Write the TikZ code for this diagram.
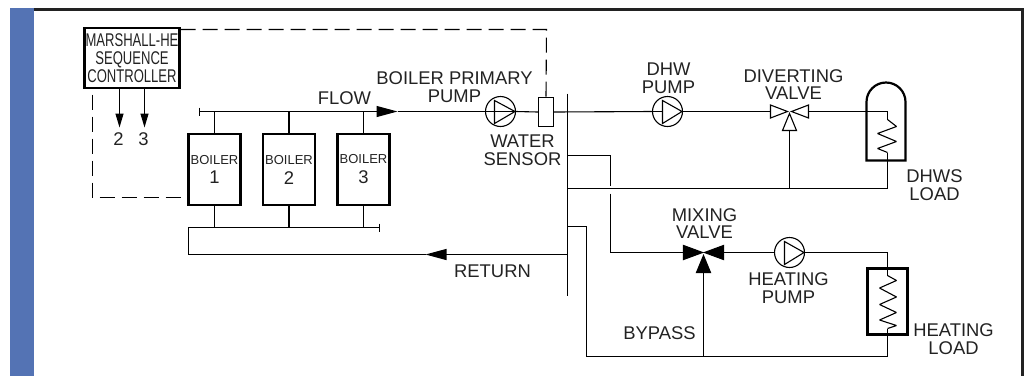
\documentclass[tikz,border=0pt]{standalone}
\usepackage{fontspec}
\setmainfont{Liberation Sans}
\usetikzlibrary{arrows.meta}
\definecolor{bandblue}{HTML}{5473B4}
\definecolor{inkgrey}{HTML}{222222}

\tikzset{
    pipe/.style={line width=1.1pt},
    signal/.style={line width=1.1pt, dash pattern=on 15pt off 7pt},
    boiler/.style={draw, line width=2.2pt, minimum width=52pt, minimum height=71pt, inner sep=0pt, align=center, text=inkgrey},
    pump/.style={draw, circle, line width=1.1pt, minimum size=30pt, inner sep=0pt},
    lbl/.style={inner sep=0pt, align=center, text=inkgrey, font=\fontsize{18.4}{17.8}\selectfont},
    valveopen/.style={draw, line width=1.1pt, fill=white},
    valveshut/.style={draw, line width=1.1pt, fill=black},
    bigtip/.style={-{Triangle[length=21pt,width=11pt]}},
    smalltip/.style={-{Triangle[length=14pt,width=8pt]}},
}

\begin{document}
\begin{tikzpicture}[x=1pt, y=-1pt]
    \useasboundingbox (-0.5,-0.5) rectangle (1024.5,375.5);

    % frame
    \fill[bandblue] (9.5,7.5) rectangle (33.5,375.5);
    \draw[line width=2.2pt, inkgrey] (33.5,9) -- (1022,9) -- (1022,375.5);

    % controller and boilers
    \node[draw, line width=2.2pt, minimum width=95pt, minimum height=60pt, inner sep=0pt, lbl] (ctrl) at (131.5,57.5)
        {\scalebox{0.71}[1]{MARSHALL-HE}\\[0.5pt]\scalebox{0.71}[1]{SEQUENCE}\\[0.5pt]\scalebox{0.71}[1]{CONTROLLER}};

    \foreach \n/\x in {1/214, 2/288.5, 3/363}
        \node[boiler] (boiler\n) at (\x,169) {\fontsize{13}{13}\selectfont BOILER\\[6pt]\fontsize{18.4}{13}\selectfont \n};

    \node[pump] (pumpA) at (500,111) {};
    \node[pump] (pumpB) at (667,111) {};
    \node[pump] (pumpC) at (789,252) {};
    \node[draw, line width=1.1pt, minimum width=15pt, minimum height=29pt, inner sep=0pt, fill=white] (sensor) at (545.5,111.5) {};

    % junctions
    \coordinate (flowend) at (199,111);
    \coordinate (flowtip) at (397,111);
    \coordinate (retend) at (379,227);
    \coordinate (retcorner) at (188,227);
    \coordinate (rettip) at (425,254);
    \coordinate (mainA) at (567,93);
    \coordinate (mainB) at (567,295);
    \coordinate (divert) at (789,111);
    \coordinate (mixer) at (703,252);
    \coordinate (dhwsin) at (887,119);
    \coordinate (dhwsout) at (887,152);
    \coordinate (loadin) at (887,275);
    \coordinate (loadout) at (887,328);
    \coordinate (dhwret) at (887,188);
    \coordinate (bypasscorner) at (586,356);
    \coordinate (dashtop) at (546,29);
    \coordinate (dashfoot) at (92,94);
    \coordinate (dashcorner) at (92,197);
    \coordinate (jumpup) at (610,185);
    \coordinate (jumpdown) at (610,193);

    % flow side
    \draw[pipe] (flowend) ++(0,-4) -- ++(0,8);
    \draw[pipe, bigtip] (flowend) -- (flowtip);
    \draw[pipe] (flowtip) -- (pumpA.east);
    \draw[pipe] (pumpA.east) -- (sensor.west);
    \draw[pipe] (sensor.east) -- (pumpB.west);
    \draw[pipe] (pumpB.east) -- ++(88,0);
    \draw[pipe] (mainA) -- (mainB);
    \draw[pipe] (808,111) -| (dhwsin);

    % return side
    \foreach \n in {1,2,3} {
        \draw[pipe] (boiler\n.north) -- (boiler\n.north |- flowend);
        \draw[pipe] (boiler\n.south) -- (boiler\n.south |- retend);
    }
    \draw[pipe] (retend) ++(0,-4) -- ++(0,8);
    \draw[pipe] (retend) -- (retcorner) -- (retcorner |- rettip) -- (rettip);
    \draw[pipe, bigtip] (mainA |- rettip) -- (rettip);

    % branches off the main
    \draw[pipe] (mainA |- 0,155) -| (jumpup);
    \draw[pipe] (jumpdown) |- (683,252);
    \draw[pipe] (mainA |- dhwret) -- (dhwret) -- (dhwsout);
    \draw[pipe] (divert |- dhwret) -- (789,130);
    \draw[pipe] (mainA |- 0,226) -| (bypasscorner) -- (bypasscorner -| loadout) -- (loadout);
    \draw[pipe] (mixer |- bypasscorner) -- (703,272);
    \draw[pipe] (723,252) -- (pumpC.west);
    \draw[pipe] (pumpC.east) -| (loadin);

    % pump triangles
    \draw[valveopen, fill=none] (494,100) -- (514.5,111) -- (494,123) -- cycle;
    \draw[valveopen, fill=none] (662,100) -- (681.5,111) -- (662,123) -- cycle;
    \draw[pipe] (pumpB.west) -- (662,111);
    \draw[valveopen, fill=none] (784,241) -- (803.5,252) -- (784,264) -- cycle;

    % valves
    \draw[valveopen] (divert) ++(-2,0) -- ++(-17,-6.5) -- ++(0,13) -- cycle;
    \draw[valveopen] (divert) ++(2,0) -- ++(17,-6.5) -- ++(0,13) -- cycle;
    \draw[valveopen] (divert) ++(0,2) -- ++(-7,17) -- ++(14,0) -- cycle;
    \draw[valveshut] (mixer) ++(-1,0) -- ++(-19,-7) -- ++(0,14) -- cycle;
    \draw[valveshut] (mixer) ++(1,0) -- ++(19,-7) -- ++(0,14) -- cycle;
    \draw[valveshut] (mixer) ++(0,3) -- ++(-7,17) -- ++(14,0) -- cycle;

    % loads
    \draw[line width=2.2pt] (866,160) -- (866,101.5) arc[start angle=-180, end angle=0, radius=19.5] -- (905,160) -- cycle;
    \draw[line width=2.2pt] (867,268) rectangle (907,334);
    \draw[pipe, line join=bevel] (dhwsin) -- ++(9,7) -- ++(-19,7) -- ++(19,8) -- ++(-19,7) -- (dhwsout);
    \draw[pipe, line join=bevel] (loadin) -- (896,280) -- (879,287.5) -- (896,296.5) -- (879,304) -- (896,312) -- (879,319.5) -- (896,325) -- (loadout);
    \draw[pipe] (887,160) -- (dhwsout);
    \draw[pipe] (dhwsin) -- (dhwsin |- divert);

    % signal wiring
    \draw[signal] (ctrl.east |- dashtop) -- (dashtop) -- (sensor.north);
    \draw[signal] (dashfoot) -- (dashcorner) -- (boiler1.west |- dashcorner);
    \coordinate (tipA) at (119,127);
    \coordinate (tipB) at (144,127);
    \draw[pipe, smalltip] (ctrl.south -| tipA) -- (tipA);
    \draw[pipe, smalltip] (ctrl.south -| tipB) -- (tipB);

    % labels
    \node[lbl] (ltwo) at (118,139) {2};
    \node[lbl] (lthree) at (143,139) {3};
    \node[lbl] (lflow) at (344,98) {FLOW};
    \node[lbl] (lprimary) at (454,87) {BOILER PRIMARY\\PUMP};
    \node[lbl] (lsensor) at (522,149.5) {WATER\\SENSOR};
    \node[lbl] (ldhw) at (668,78) {DHW\\PUMP};
    \node[lbl] (ldivert) at (793,84) {DIVERTING\\VALVE};
    \node[lbl] (ldhws) at (934,185) {DHWS\\LOAD};
    \node[lbl] (lmix) at (704,223) {MIXING\\VALVE};
    \node[lbl] (lheatpump) at (788,288) {HEATING\\PUMP};
    \node[lbl] (lbypass) at (659,333) {BYPASS};
    \node[lbl] (lheatload) at (953,339) {HEATING\\LOAD};
    \node[lbl] (lreturn) at (492,271) {RETURN};
\end{tikzpicture}
\end{document}
